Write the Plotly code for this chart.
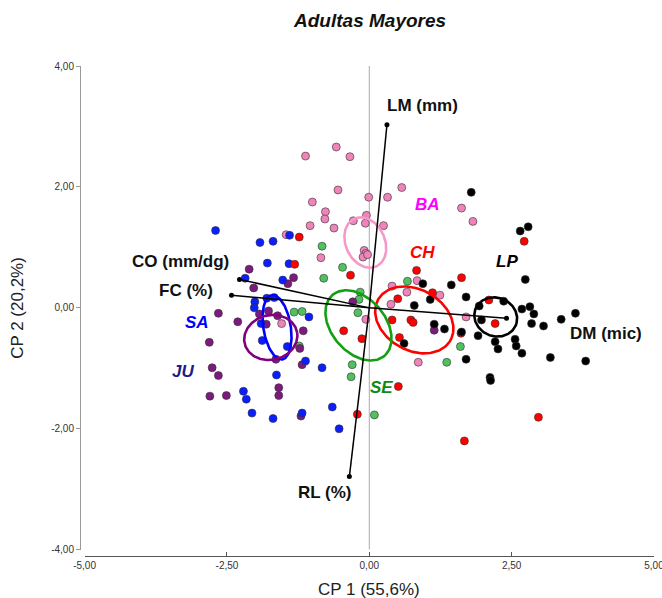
import numpy as np
import plotly.graph_objects as go

# ---------------- data ----------------
groups = ["BA", "CH", "LP", "SA", "JU", "SE"]

BA_x = [-1.12, -0.58, -0.34, 0.57, -0.55, -0.01, 0.32, -1.00, -0.77, -0.78, -0.05, -0.28, -0.07, 0.25,
        -1.04, -0.62, -1.46, -0.09, -0.06, -0.11, -0.03, -0.85, 0.40, 0.66, 0.38, -0.06, -1.54, 0.86,
        1.62, 1.82, 0.84, 1.24, 1.70]
BA_y = [2.51, 2.66, 2.50, 1.99, 1.95, 1.83, 1.83, 1.75, 1.59, 1.47, 1.53, 1.44, 1.40, 1.36,
        1.36, 1.32, 1.21, 0.95, 0.90, 0.84, 0.88, 0.83, 0.36, 0.26, 0.06, -0.19, -0.26, -0.90,
        1.65, 1.43, 0.45, 0.21, -0.15]

CH_x = [-1.23, -1.31, -0.33, 0.83, 0.50, 0.40, 0.73, 0.77, -0.45, -0.13, 0.53, 0.51, -0.21,
        2.72, 1.62, 1.11, 2.10, 2.21, 1.61, 2.97, 1.67]
CH_y = [1.17, 0.72, 0.54, 0.62, 0.15, -0.20, -0.20, -0.24, -0.38, -0.51, -0.49, -1.30, -1.76,
        1.10, 0.50, 0.25, 0.13, -0.26, -0.42, -1.81, -2.20]

LP_x = [1.79, 2.65, 2.79, 2.74, 0.94, 1.44, 1.07, 1.70, 0.79, 1.93, 2.36, 2.68, 2.82, 2.89, 2.85,
        3.06, 3.37, 3.62, 1.14, 1.32, 1.62, 1.97, 1.91, 2.21, 2.56, 2.58, 2.26, 2.68, 1.70, 3.18,
        3.80, 2.12, 2.13, 0.61]
LP_y = [1.91, 1.27, 1.34, 0.47, 0.40, 0.38, 0.14, 0.18, 0.04, 0.03, 0.11, -0.02, 0.02, -0.10, -0.26,
        -0.30, -0.19, -0.09, -0.27, -0.35, -0.40, -0.20, -0.46, -0.56, -0.52, -0.63, -0.68, -0.75, -0.85, -0.82,
        -0.88, -1.15, -1.20, -0.59]

SA_x = [-2.70, -1.92, -1.69, -1.40, -1.79, -1.41, -2.18, -1.52, -2.01, -2.02, -1.80, -1.67, -1.90,
        -1.88, -1.44, -1.06, -1.12, -0.83, -1.63, -2.21, -2.16, -2.06, -1.69, -1.18, -0.65, -0.53]
SA_y = [1.28, 1.08, 1.10, 1.20, 0.74, 0.73, 0.49, 0.46, 0.10, 0.00, 0.16, 0.17, -0.26,
        -0.54, -0.64, -0.15, -0.88, -0.99, -1.11, -1.38, -1.51, -1.74, -1.83, -1.74, -1.64, -2.00]

JU_x = [-2.11, -1.33, -1.43, -2.03, -2.65, -2.31, -1.93, -1.77, -1.61, -1.81, -1.16, -2.81, -0.29,
        -1.22, -2.76, -2.65, -2.80, -2.51, -1.59, -1.59, -1.18, -1.20, -1.64, 1.14]
JU_y = [0.64, 0.50, 0.40, 0.33, -0.09, -0.23, -0.10, -0.05, -0.13, -0.27, -0.38, -0.57, 0.10,
        -0.67, -0.99, -1.12, -1.46, -1.45, -1.32, -1.45, -0.94, -1.79, -0.85, -0.37]

SE_x = [-0.83, -0.47, -0.80, 0.67, -0.16, -0.18, -0.20, -1.32, -1.18, -1.23, -0.30, -0.32, 0.09, 1.60, 1.36]
SE_y = [1.02, 0.67, 0.49, 0.44, 0.26, 0.14, -0.08, -0.07, -0.06, -0.63, -0.94, -1.14, -1.77, -0.64, -0.90]

# confidence ellipses: centre, semi-axes, rotation (degrees)
ell_cx = [-0.07, 0.79, 2.22, -1.62, -1.73, -0.19]
ell_cy = [1.08, -0.20, -0.15, -0.32, -0.49, -0.29]
ell_a = [0.44, 0.72, 0.38, 0.54, 0.47, 0.68]
ell_b = [0.34, 0.51, 0.32, 0.24, 0.37, 0.46]
ell_ang = [-60, -25, -15, 100, 10, -45]

# group label positions
lab_x = [1.03, 0.93, 2.42, -3.03, -3.27, 0.22]
lab_y = [1.71, 0.92, 0.76, -0.24, -1.05, -1.31]

# biplot variable vectors
var_names = ["LM (mm)", "RL (%)", "CO (mm/dg)", "FC (%)", "DM (mic)"]
var_x = [0.31, -0.35, -2.28, -2.42, 2.41]
var_y = [3.03, -2.79, 0.47, 0.21, -0.17]
var_lab_x = [0.93, -0.78, -3.32, -3.22, 4.16]
var_lab_y = [3.35, -3.06, 0.76, 0.29, -0.42]

x_ticks = [-5, -2.5, 0, 2.5, 5]
x_tick_labels = ["-5,00", "-2,50", "0,00", "2,50", "5,00"]
y_ticks = [-4, -2, 0, 2, 4]
y_tick_labels = ["-4,00", "-2,00", "0,00", "2,00", "4,00"]

# ---------------- styles ----------------
pt_colors = {"BA": "#EF84BA", "CH": "#FF0000", "LP": "#000000", "SA": "#0A1EFF", "JU": "#7D1A7D", "SE": "#50C060"}
ell_colors = {"BA": "#F59AC8", "CH": "#FF0000", "LP": "#000000", "SA": "#0000FF", "JU": "#800080", "SE": "#12A012"}
lab_colors = {"BA": "#FF00FF", "CH": "#FF0000", "LP": "#000000", "SA": "#0000FF", "JU": "#1C1C8C", "SE": "#118A11"}

pts = {"BA": (BA_x, BA_y), "CH": (CH_x, CH_y), "LP": (LP_x, LP_y),
       "SA": (SA_x, SA_y), "JU": (JU_x, JU_y), "SE": (SE_x, SE_y)}

FONT = "Liberation Sans, Arial, sans-serif"

fig = go.Figure()

# zero reference line
fig.add_shape(type="line", x0=0, x1=0, y0=-4, y1=4, xref="x", yref="y",
              line=dict(color="#AAAAAA", width=1), layer="below")

# points
for g in ["BA", "SE", "JU", "SA", "CH", "LP"]:
    xs, ys = pts[g]
    fig.add_trace(go.Scatter(x=xs, y=ys, mode="markers", name=g, showlegend=False,
                             marker=dict(size=8, color=pt_colors[g],
                                         line=dict(color="#333333", width=0.6))))

# ellipses
t = np.linspace(0, 2 * np.pi, 181)
for i, g in enumerate(groups):
    th = np.deg2rad(ell_ang[i])
    ex = ell_cx[i] + ell_a[i] * np.cos(t) * np.cos(th) - ell_b[i] * np.sin(t) * np.sin(th)
    ey = ell_cy[i] + ell_a[i] * np.cos(t) * np.sin(th) + ell_b[i] * np.sin(t) * np.cos(th)
    fig.add_trace(go.Scatter(x=ex, y=ey, mode="lines", showlegend=False, hoverinfo="skip",
                             line=dict(color=ell_colors[g], width=2.6)))

# vectors
for i, v in enumerate(var_names):
    fig.add_trace(go.Scatter(x=[0, var_x[i]], y=[0, var_y[i]], mode="lines", showlegend=False,
                             hoverinfo="skip", line=dict(color="#000000", width=1.5)))
fig.add_trace(go.Scatter(x=var_x, y=var_y, mode="markers", showlegend=False, hoverinfo="skip",
                         marker=dict(size=5, color="#000000")))

annotations = []
for i, v in enumerate(var_names):
    annotations.append(dict(x=var_lab_x[i], y=var_lab_y[i], xref="x", yref="y", text="<b>%s</b>" % v,
                            showarrow=False, font=dict(family=FONT, size=17, color="#111111")))
for i, g in enumerate(groups):
    annotations.append(dict(x=lab_x[i], y=lab_y[i], xref="x", yref="y", text="<b><i>%s</i></b>" % g,
                            showarrow=False, font=dict(family=FONT, size=17, color=lab_colors[g])))
# axis titles
annotations.append(dict(x=0, y=-0.069, xref="x", yref="paper", text="CP 1 (55,6%)", showarrow=False,
                        yanchor="middle", font=dict(family=FONT, size=17, color="#222222")))
annotations.append(dict(x=-0.108, y=0, xref="paper", yref="y", text="CP 2 (20,2%)", showarrow=False,
                        textangle=-90, xanchor="center", font=dict(family=FONT, size=17, color="#222222")))

fig.update_layout(
    width=662, height=598,
    margin=dict(l=80, r=8, t=66, b=42, autoexpand=False),
    paper_bgcolor="white", plot_bgcolor="white",
    title=dict(text="<b><i>Adultas Mayores</i></b>", x=0.559, xref="container", xanchor="center",
               y=1 - 20 / 598, yref="container", yanchor="middle",
               font=dict(family=FONT, size=19, color="#111111")),
    annotations=annotations,
    xaxis=dict(domain=[0.008, 1], range=[-5, 5], anchor="free", position=0, automargin=False,
               showline=True, linecolor="#555555", linewidth=1, showgrid=False, zeroline=False,
               ticks="inside", ticklen=4, tickcolor="#555555",
               tickvals=x_ticks, ticktext=x_tick_labels, ticklabeloverflow="allow",
               tickfont=dict(family=FONT, size=10, color="#333333")),
    yaxis=dict(domain=[0.0128, 1], range=[-4, 4], anchor="free", position=0, automargin=False,
               showline=True, linecolor="#999999", linewidth=1, showgrid=False, zeroline=False,
               ticks="outside", ticklen=4, tickcolor="#999999",
               tickvals=y_ticks, ticktext=y_tick_labels,
               tickfont=dict(family=FONT, size=10, color="#333333")),
)

fig.write_html("out.html", config={"displayModeBar": False},
               post_script="document.body.style.margin='0px';document.body.style.overflow='hidden';")
